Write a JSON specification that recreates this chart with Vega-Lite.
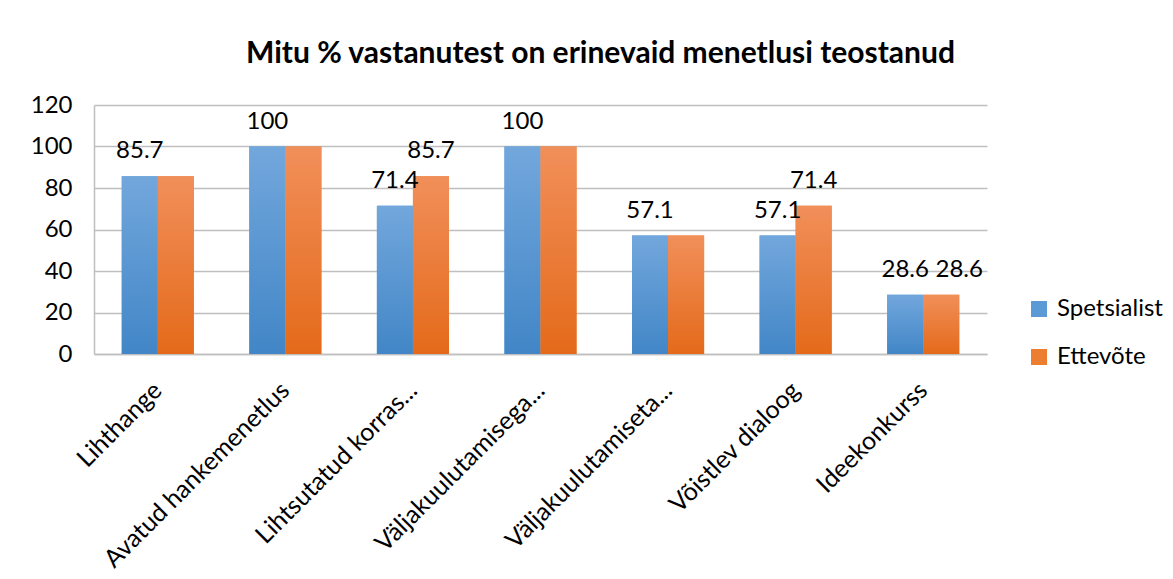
{
  "$schema": "https://vega.github.io/schema/vega-lite/v6.json",
  "width": 893,
  "height": 249,
  "padding": {"left": 30, "top": 39, "right": 5, "bottom": 5},
  "background": "white",
  "title": {
    "text": "Mitu % vastanutest on erinevaid menetlusi teostanud",
    "fontSize": 30,
    "fontWeight": "bold",
    "font": "Lato",
    "color": "#000000",
    "anchor": "middle",
    "dx": 60,
    "offset": 24
  },
  "data": {
    "values": [
      {"menetlus": "Lihthange", "grupp": "Spetsialist", "vaartus": 85.7, "silt": "85.7"},
      {"menetlus": "Lihthange", "grupp": "Ettevõte", "vaartus": 85.7, "silt": ""},
      {"menetlus": "Avatud hankemenetlus", "grupp": "Spetsialist", "vaartus": 100, "silt": "100"},
      {"menetlus": "Avatud hankemenetlus", "grupp": "Ettevõte", "vaartus": 100, "silt": ""},
      {"menetlus": "Lihtsutatud korras...", "grupp": "Spetsialist", "vaartus": 71.4, "silt": "71.4"},
      {"menetlus": "Lihtsutatud korras...", "grupp": "Ettevõte", "vaartus": 85.7, "silt": "85.7"},
      {"menetlus": "Väljakuulutamisega...", "grupp": "Spetsialist", "vaartus": 100, "silt": "100"},
      {"menetlus": "Väljakuulutamisega...", "grupp": "Ettevõte", "vaartus": 100, "silt": ""},
      {"menetlus": "Väljakuulutamiseta...", "grupp": "Spetsialist", "vaartus": 57.1, "silt": "57.1"},
      {"menetlus": "Väljakuulutamiseta...", "grupp": "Ettevõte", "vaartus": 57.1, "silt": ""},
      {"menetlus": "Võistlev dialoog", "grupp": "Spetsialist", "vaartus": 57.1, "silt": "57.1"},
      {"menetlus": "Võistlev dialoog", "grupp": "Ettevõte", "vaartus": 71.4, "silt": "71.4"},
      {"menetlus": "Ideekonkurss", "grupp": "Spetsialist", "vaartus": 28.6, "silt": "28.6"},
      {"menetlus": "Ideekonkurss", "grupp": "Ettevõte", "vaartus": 28.6, "silt": "28.6"}
    ]
  },
  "encoding": {
    "x": {
      "field": "menetlus",
      "type": "nominal",
      "sort": null,
      "scale": {"paddingInner": 0.435, "paddingOuter": 0.2175},
      "axis": {
        "title": null,
        "labelAngle": -45,
        "labelAlign": "right",
        "labelBaseline": "middle",
        "labelFontSize": 25,
        "labelFont": "Lato",
        "labelColor": "#000000",
        "labelPadding": 32,
        "labelLimit": 400,
        "ticks": false,
        "domain": true,
        "domainColor": "#bfbfbf",
        "domainWidth": 1.5
      }
    },
    "xOffset": {"field": "grupp", "type": "nominal", "sort": ["Spetsialist", "Ettevõte"], "scale": {"paddingInner": 0, "paddingOuter": 0}},
    "y": {
      "field": "vaartus",
      "type": "quantitative",
      "scale": {"domain": [0, 120]},
      "axis": {
        "title": null,
        "values": [0, 20, 40, 60, 80, 100, 120],
        "labelFontSize": 24,
        "labelFont": "Lato",
        "labelColor": "#000000",
        "labelPadding": 22,
        "ticks": false,
        "domain": true,
        "domainColor": "#bfbfbf",
        "domainWidth": 1.5,
        "grid": true,
        "gridColor": "#bfbfbf",
        "gridWidth": 1.5
      }
    }
  },
  "layer": [
    {
      "mark": {"type": "bar"},
      "encoding": {
        "color": {
          "field": "grupp",
          "type": "nominal",
          "sort": ["Spetsialist", "Ettevõte"],
          "scale": {
            "domain": ["Spetsialist", "Ettevõte"],
            "range": ["#5b9bd5", "#ed7d31"]
          },
          "legend": {
            "title": null,
            "orient": "none",
            "legendX": 933,
            "legendY": 192,
            "symbolType": "square",
            "symbolSize": 256,
            "symbolStrokeWidth": 0,
            "labelFontSize": 24,
            "labelFont": "Lato",
            "labelColor": "#000000",
            "rowPadding": 24,
            "labelOffset": 6
          }
        }
      }
    },
    {
      "transform": [{"filter": "datum.grupp === 'Spetsialist'"}],
      "mark": {
        "type": "bar",
        "color": {"gradient": "linear", "x1": 0, "y1": 0, "x2": 0, "y2": 1, "stops": [{"offset": 0, "color": "#72a7dc"}, {"offset": 1, "color": "#4286c7"}]}
      },
      "encoding": {}
    },
    {
      "transform": [{"filter": "datum.grupp === 'Ettevõte'"}],
      "mark": {
        "type": "bar",
        "color": {"gradient": "linear", "x1": 0, "y1": 0, "x2": 0, "y2": 1, "stops": [{"offset": 0, "color": "#f18f5a"}, {"offset": 1, "color": "#e46a1a"}]}
      },
      "encoding": {}
    },
    {
      "transform": [{"filter": "!(datum.menetlus === 'Ideekonkurss' && datum.grupp === 'Ettevõte')"}],
      "mark": {"type": "text", "baseline": "alphabetic", "dy": -18, "fontSize": 24, "font": "Lato", "color": "#000000"},
      "encoding": {
        "text": {"field": "silt", "type": "nominal"}
      }
    },
    {
      "transform": [{"filter": "datum.menetlus === 'Ideekonkurss' && datum.grupp === 'Ettevõte'"}],
      "mark": {"type": "text", "baseline": "alphabetic", "dy": -18, "dx": 18, "fontSize": 24, "font": "Lato", "color": "#000000"},
      "encoding": {
        "text": {"field": "silt", "type": "nominal"}
      }
    }
  ],
  "config": {
    "view": {"stroke": null}
  }
}
